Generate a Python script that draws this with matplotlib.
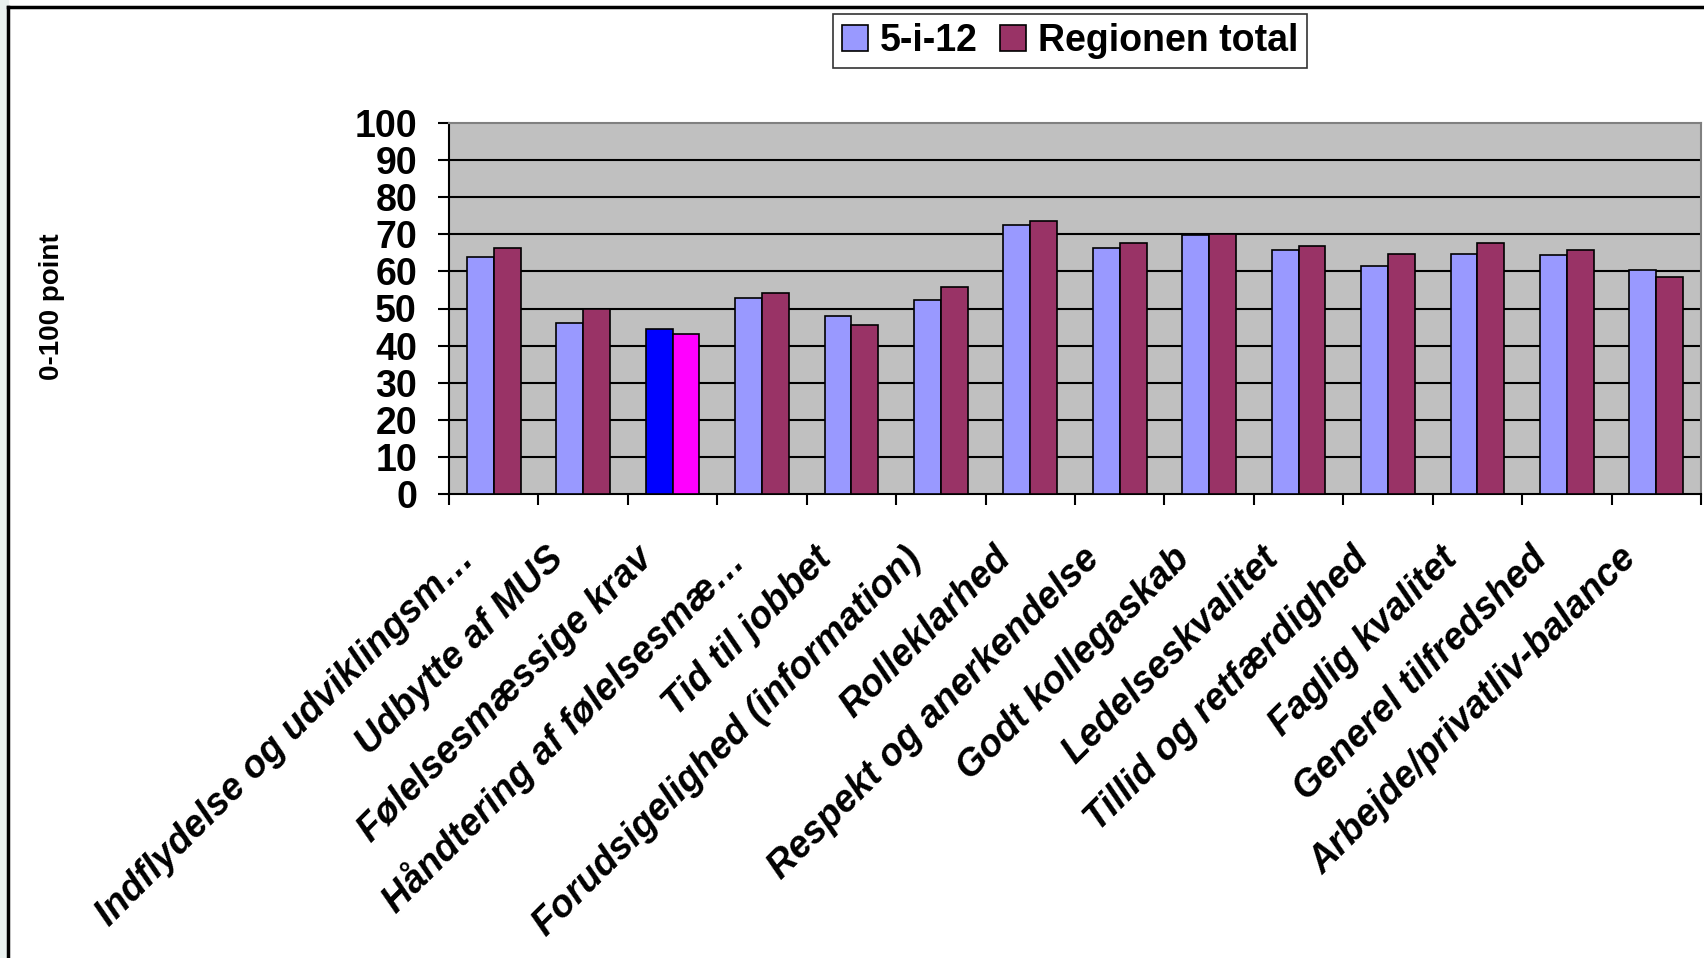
import numpy as np
import matplotlib
matplotlib.use('Agg')
import matplotlib.pyplot as plt
import matplotlib.transforms as mtransforms
from matplotlib.lines import Line2D
from matplotlib.patches import Rectangle

# data
categories = ['Indflydelse og udviklingsm…', 'Udbytte af MUS', 'Følelsesmæssige krav',
              'Håndtering af følelsesmæ…', 'Tid til jobbet', 'Forudsigelighed (information)',
              'Rolleklarhed', 'Respekt og anerkendelse', 'Godt kollegaskab', 'Ledelseskvalitet',
              'Tillid og retfærdighed', 'Faglig kvalitet', 'Generel tilfredshed',
              'Arbejde/privatliv-balance']
unit_vals = [63.8, 46.1, 44.6, 52.9, 48.0, 52.3, 72.5, 66.3, 69.7, 65.7, 61.5, 64.8, 64.4, 60.5]
region_vals = [66.3, 49.9, 43.2, 54.3, 45.6, 55.7, 73.5, 67.7, 70.2, 66.8, 64.8, 67.7, 65.8, 58.6]
series_names = ['5-i-12', 'Regionen total']
highlight = 'Følelsesmæssige krav'
yticks = [0, 10, 20, 30, 40, 50, 60, 70, 80, 90, 100]

plt.rcParams['font.family'] = ['Liberation Sans', 'DejaVu Sans']
plt.rcParams['font.weight'] = 'bold'

W, H = 1704, 958
fig = plt.figure(figsize=(W / 100, H / 100), dpi=100)
ax = fig.add_axes([449 / W, 1 - 494 / H, (1701 - 449) / W, (494 - 123) / H])

x = np.arange(len(categories))
bw = 0.3
c1 = ['#0000FF' if c == highlight else '#9999FF' for c in categories]
c2 = ['#FF00FF' if c == highlight else '#993366' for c in categories]
ax.bar(x - bw / 2, unit_vals, bw, color=c1, edgecolor='black', linewidth=1.2, zorder=3,
       label=series_names[0])
ax.bar(x + bw / 2, region_vals, bw, color=c2, edgecolor='black', linewidth=1.2, zorder=3,
       label=series_names[1])

ax.set_facecolor('#C0C0C0')
ax.set_xlim(-0.5, len(categories) - 0.5)
ax.set_ylim(0, 100)
ax.set_yticks(yticks)
ax.set_yticklabels([str(v) for v in yticks], fontsize=27, fontweight='bold')
for v in yticks[1:-1]:
    ax.axhline(v, color='black', linewidth=1.5, zorder=1)

# ticks between the categories, labels at the centres
ax.set_xticks(np.arange(len(categories) + 1) - 0.5)
ax.set_xticklabels([])
ax.set_xticks(x, minor=True)
ax.set_xticklabels(categories, minor=True, rotation=45, ha='right', va='top',
                   rotation_mode='anchor', fontsize=27, fontweight='bold', fontstyle='italic')
ax.tick_params(axis='x', which='minor', length=0, pad=22)
ax.tick_params(axis='x', which='major', length=8, width=1.5, direction='out')
ax.tick_params(axis='y', length=8, width=1.5, direction='out', pad=15)

# nudge the slanted labels down-left like the original
shift = mtransforms.ScaledTranslation(-38 / 100, -16 / 100, fig.dpi_scale_trans)
for lab in ax.get_xticklabels(minor=True):
    lab.set_transform(lab.get_transform() + shift)

ax.spines['left'].set_linewidth(1.5)
ax.spines['bottom'].set_linewidth(1.5)
ax.spines['top'].set_color('#808080')
ax.spines['right'].set_color('#808080')
ax.spines['top'].set_linewidth(1.5)
ax.spines['right'].set_linewidth(1.5)

fig.text(52 / W, 1 - 307 / H, '0-100 point', rotation=90, fontsize=20, fontweight='bold',
         ha='center', va='center')

leg = fig.legend(loc='center', bbox_to_anchor=(1070 / W, 1 - 41 / H), ncol=2, fontsize=27,
                 frameon=True, fancybox=False, edgecolor='black', handlelength=0.7,
                 handleheight=0.7, handletextpad=0.3, columnspacing=0.6, borderpad=0.25,
                 borderaxespad=0)
leg.get_frame().set_linewidth(1.2)

# outer frame of the original slide
fig.add_artist(Rectangle((0, 0), 8 / W, 1, transform=fig.transFigure, color='#E9F1EF', zorder=0))
fig.add_artist(Line2D([8 / W, 1], [1 - 7 / H, 1 - 7 / H], color='black', linewidth=2.5))
fig.add_artist(Line2D([8 / W, 8 / W], [0, 1 - 7 / H], color='black', linewidth=2.5))

fig.savefig('out.png', dpi=100)
